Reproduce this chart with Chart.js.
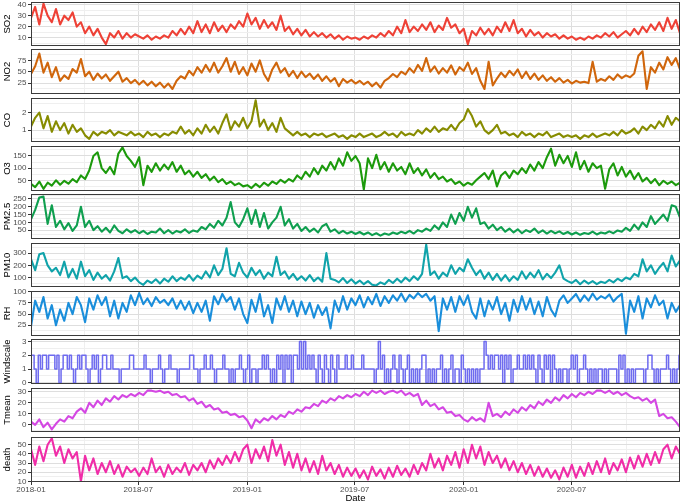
<!DOCTYPE html>
<html>
<head>
<meta charset="utf-8">
<script src="https://cdn.jsdelivr.net/npm/chart.js@4.4.1/dist/chart.umd.min.js"></script>
<style>
  html, body { margin: 0; padding: 0; background: #fff; }
  #wrap { position: relative; width: 685px; height: 504px; overflow: hidden; }
  #wrap canvas { position: absolute; left: 0; }
</style>
</head>
<body>
<div id="wrap"></div>
<script>
// roughly weekly readings, 2018-01-01 .. 2020-12-31 (wind scale twice a week)
const startDate = '2018-01-01';
const endDate = '2020-12-31';

const so2 = [28,38,22,41,30,24,36,22,30,26,33,20,24,14,20,12,18,10,4,14,10,16,9,14,10,13,
  11,9,12,8,11,9,12,10,16,12,18,13,20,14,25,15,22,14,24,16,21,15,22,18,25,20,
  32,22,28,18,26,19,24,17,30,16,20,13,18,12,17,11,15,11,14,10,13,9,12,8,11,9,
  10,8,11,9,12,10,14,11,16,12,20,14,26,15,20,16,22,17,24,15,21,17,28,19,22,14,
  18,4,16,12,19,13,18,12,20,15,24,16,26,14,18,11,17,12,15,10,14,11,13,9,12,9,
  11,8,10,8,11,9,12,10,14,11,15,10,13,16,12,18,13,20,15,22,17,24,16,28,18,26,14];

const no2 = [45,62,90,48,70,38,60,30,42,34,56,48,78,40,50,32,46,35,44,30,40,50,28,36,25,32,
  22,30,20,28,18,26,15,24,12,30,40,35,52,42,60,48,65,50,70,48,62,80,50,72,45,60,
  42,68,50,75,45,30,55,70,48,58,40,52,36,50,38,46,34,44,30,40,28,36,18,34,26,32,
  24,30,22,28,18,26,15,30,36,45,38,50,44,58,48,65,52,80,50,62,46,58,48,64,44,60,
  52,70,45,58,30,12,72,20,35,48,38,52,42,55,36,50,34,46,32,42,30,38,28,36,26,32,
  24,30,26,28,25,72,28,34,30,40,32,44,36,42,38,46,85,95,12,60,48,70,55,82,65,80,55];

const co = [1.2,1.7,2.0,1.1,1.8,0.9,1.5,1.0,1.4,0.8,1.3,0.9,1.1,0.7,0.5,0.9,0.7,0.9,0.8,1.0,0.7,0.9,0.8,0.7,0.9,0.7,
  0.8,0.6,0.9,0.7,0.8,0.6,0.8,0.7,0.9,0.8,1.2,0.8,1.0,0.7,1.1,0.8,1.3,0.9,1.2,0.8,1.4,1.9,1.0,1.5,1.2,1.7,
  1.1,1.5,2.7,1.2,1.6,1.0,1.4,0.9,1.7,1.1,0.9,0.7,0.9,0.7,0.8,0.6,0.8,0.7,0.8,0.6,0.7,0.8,0.6,0.7,0.5,0.7,
  0.6,0.8,0.6,0.7,0.8,0.6,0.7,0.9,0.7,0.8,0.6,0.9,0.7,0.8,0.7,1.0,0.8,1.1,0.9,1.2,0.9,1.1,1.0,1.3,1.0,1.4,
  1.6,2.2,1.8,1.2,1.5,1.0,0.8,1.0,1.3,0.8,0.9,0.7,0.8,0.6,0.9,0.7,0.8,0.6,0.8,0.7,0.9,0.6,0.7,0.8,0.6,0.7,
  0.6,0.7,0.5,0.7,0.6,0.8,0.6,0.7,0.8,0.7,0.9,0.7,1.0,0.8,0.9,1.1,0.8,1.2,1.0,1.3,1.1,1.5,1.2,1.8,1.3,1.7,1.5];

const o3 = [35,22,45,15,40,28,50,32,48,36,55,42,70,55,90,150,165,100,80,105,75,160,185,150,130,105,
  145,30,110,85,120,90,115,95,125,85,110,75,90,65,85,60,75,50,65,42,55,35,45,30,38,25,
  30,18,35,22,40,28,45,35,52,40,55,45,70,55,85,65,100,75,110,90,125,95,140,110,165,130,
  150,120,12,140,100,155,95,125,85,120,90,105,75,120,80,100,70,95,60,80,55,65,45,55,35,45,
  28,40,32,50,65,80,55,90,25,70,85,60,90,75,100,80,115,90,125,100,145,180,110,155,120,150,
  105,165,95,130,85,120,100,110,15,95,120,70,105,65,90,55,80,45,60,38,55,30,48,35,45,30,40];

const pm25 = [120,180,260,265,90,210,70,110,55,95,45,80,200,70,110,50,75,40,65,35,80,45,30,55,35,50,
  30,45,25,40,35,60,30,50,28,45,35,55,32,48,40,70,55,90,65,110,80,130,230,100,70,120,
  190,90,180,70,160,60,100,130,200,80,120,60,90,45,70,40,60,35,75,90,40,55,30,45,28,40,
  25,38,22,35,18,30,15,28,20,35,25,40,30,45,28,50,40,60,45,80,55,100,70,150,90,160,
  110,200,130,190,90,100,60,85,50,70,40,60,35,55,30,50,38,60,32,48,28,45,30,42,25,38,
  22,35,20,32,25,40,22,35,28,42,30,48,40,65,45,85,55,100,70,140,90,120,150,110,210,200,130];

const pm10 = [250,160,290,300,200,150,180,120,230,100,170,90,230,110,160,80,140,90,120,75,150,260,95,110,70,100,
  60,40,75,55,85,50,90,65,110,70,100,80,120,75,115,90,150,100,200,120,170,340,130,110,220,140,
  100,180,120,160,90,140,110,270,120,150,90,130,80,110,75,120,70,100,65,300,90,80,60,95,55,85,
  50,75,45,70,40,35,60,45,80,55,90,60,100,70,110,80,130,370,120,150,90,140,110,200,130,180,
  150,250,180,120,160,90,140,80,130,75,120,70,110,80,150,90,140,100,160,85,130,95,140,200,90,70,
  55,80,45,75,50,70,45,65,55,80,60,90,70,100,85,130,110,250,150,200,130,180,220,150,280,190,240];

const rh = [22,80,55,88,40,70,25,60,35,75,50,88,70,32,85,60,92,70,88,45,80,40,75,55,92,70,
  97,72,85,68,88,75,82,70,85,62,80,60,78,52,75,55,80,35,90,72,95,78,88,60,85,50,
  30,82,55,95,45,70,30,85,60,90,55,80,45,78,50,75,42,70,48,65,18,80,55,90,60,85,
  70,92,65,88,72,95,68,90,75,92,80,96,78,93,85,97,88,95,80,90,12,85,60,88,55,90,
  70,92,55,40,85,45,80,60,88,50,75,35,82,55,90,60,85,50,78,45,88,60,45,80,92,75,
  85,95,78,92,80,96,82,90,85,94,78,88,95,6,80,55,90,40,85,65,92,70,80,40,75,55,70];

const windscale = [2,2,1,0,2,1,2,2,1,2, 2,2,1,2,0,1,2,2,1,2, 1,0,1,2,1,2,2,1,0,1, 2,1,2,0,1,2,2,1,1,2,
  1,1,1,0,1,1,1,1,2,2, 1,1,1,1,1,2,1,1,0,1, 1,1,2,1,0,1,1,2,1,1, 1,0,1,1,1,1,1,2,2,1,
  1,0,1,1,2,1,1,2,1,0, 1,1,1,2,1,1,0,1,0,1, 1,2,1,0,1,2,0,1,1,0, 1,1,2,1,2,1,0,1,0,2,
  1,2,0,2,1,2,0,2,2,1, 3,1,3,1,2,1,2,1,0,2, 1,0,2,1,0,2,1,0,2,1, 1,1,2,1,1,2,1,1,1,1,
  2,1,1,1,1,1,0,1,3,1, 2,0,1,0,1,2,1,0,2,1, 0,1,2,0,1,0,1,0,1,2, 2,0,1,0,1,0,1,1,2,0,
  1,0,1,2,0,1,1,0,2,1, 0,1,0,1,0,1,0,1,1,3, 2,1,2,1,2,2,1,2,0,2, 1,2,0,1,1,2,1,1,2,1,
  2,1,2,1,0,2,1,0,2,1, 2,0,2,1,0,1,0,1,1,0, 1,2,1,2,0,1,1,2,1,0, 1,0,1,0,1,1,0,1,0,1,
  1,1,1,0,2,1,2,0,1,0, 1,0,1,1,1,1,0,1,2,2, 1,0,1,0,1,1,1,2,1,0, 1,0,1,2];

const tmean = [3,0,5,-2,2,-4,1,5,3,8,6,12,15,11,20,16,22,18,24,21,26,23,27,25,28,26,
  29,27,31,31,30,31,29,30,27,28,25,26,22,24,19,21,16,18,14,15,11,12,9,10,7,8,
  4,-3,5,2,6,4,8,5,9,7,12,10,14,12,16,15,19,17,22,20,24,22,26,24,27,25,
  28,26,30,27,31,29,31,28,30,31,29,31,27,29,26,28,18,22,17,19,14,16,11,12,8,9,
  5,3,7,4,6,3,20,8,10,7,12,9,14,11,16,13,18,15,21,18,23,20,25,22,27,24,
  28,25,29,27,30,28,31,31,29,31,28,30,27,29,26,24,25,22,24,20,23,8,10,6,7,3,-2];

const death = [45,28,48,32,50,57,38,48,30,45,35,42,10,38,22,35,18,30,20,32,18,28,15,26,20,24,
  16,25,18,35,20,26,15,28,18,25,20,30,17,28,22,30,20,33,24,35,28,38,30,42,32,45,
  50,30,45,35,48,32,55,38,50,28,42,25,40,22,35,20,32,18,38,22,30,18,28,15,25,16,
  24,14,22,12,26,16,23,13,25,15,27,17,24,15,28,18,30,22,40,25,35,22,38,28,42,25,
  45,30,50,35,48,28,42,30,38,25,35,22,32,20,30,18,28,16,26,15,24,14,22,12,25,15,
  28,14,26,16,30,18,32,20,35,18,30,22,34,20,36,24,38,26,40,28,42,30,45,50,35,48,40];

const so2Ticks = [10, 20, 30, 40];
const no2Ticks = [25, 50, 75];
const coTicks = [1, 2];
const o3Ticks = [50, 100, 150];
const pm25Ticks = [50, 100, 150, 200, 250];
const pm10Ticks = [100, 200, 300];
const rhTicks = [25, 50, 75, 100];
const windTicks = [0, 1, 2, 3];
const tmeanTicks = [0, 10, 20, 30];
const deathTicks = [10, 20, 30, 40, 50];

const so2Range = [2.3, 42.5];
const no2Range = [1, 100];
const coRange = [0.32, 2.83];
const o3Range = [6, 191];
const pm25Range = [-7, 282];
const pm10Range = [22, 383];
const rhRange = [1, 101.6];
const windRange = [-0.08, 3.18];
const tmeanRange = [-6.4, 33.4];
const deathRange = [9.3, 58.4];

const xMajorLabels = ['2018-01', '2018-07', '2019-01', '2019-07', '2020-01', '2020-07'];
const xMinorLabels = ['2018-04', '2018-10', '2019-04', '2019-10', '2020-04', '2020-10'];

const panels = [
  {name: 'SO2', values: so2, ticks: so2Ticks, range: so2Range, color: '#EE4136'},
  {name: 'NO2', values: no2, ticks: no2Ticks, range: no2Range, color: '#D0660C'},
  {name: 'CO', values: co, ticks: coTicks, range: coRange, color: '#878C00'},
  {name: 'O3', values: o3, ticks: o3Ticks, range: o3Range, color: '#1C9A0C'},
  {name: 'PM2.5', values: pm25, ticks: pm25Ticks, range: pm25Range, color: '#0F9F4F'},
  {name: 'PM10', values: pm10, ticks: pm10Ticks, range: pm10Range, color: '#10A3AA'},
  {name: 'RH', values: rh, ticks: rhTicks, range: rhRange, color: '#1A8EDB'},
  {name: 'Windscale', values: windscale, ticks: windTicks, range: windRange, color: '#6E6BEF', stepped: 'middle', width: 1.5},
  {name: 'Tmean', values: tmean, ticks: tmeanTicks, range: tmeanRange, color: '#D447E3'},
  {name: 'death', values: death, ticks: deathTicks, range: deathRange, color: '#F02DA8'}
];

// layout (px)
const panelTop = [2, 49, 98, 146, 194, 243, 291, 339, 388, 437];
const panelHeight = [44, 45, 44, 45, 45, 44, 45, 45, 44, 45];
const plotLeft = 31, plotRight = 680, pad = 6;

const DAY = 86400000;
const t0 = Date.parse(startDate);
const totalDays = (Date.parse(endDate) - t0) / DAY;
const toDay = s => (Date.parse(s + '-01') - t0) / DAY;
const spread = n => Array(n).fill().map((_, i) => i * totalDays / (n - 1));

const xTicks = xMajorLabels.map(l => ({value: toDay(l), label: l}))
  .concat(xMinorLabels.map(l => ({value: toDay(l), minor: true})))
  .sort((a, b) => a.value - b.value);

const fontFamily = '"Liberation Sans", Arial, Helvetica, sans-serif';
const majorGrid = '#DEDEDE', minorGrid = '#EFEFEF', tickMark = '#333333', labelGray = '#4D4D4D';

function minorBreaks(major, lo, hi) {
  const step = major[1] - major[0];
  const out = [];
  for (let v = major[0] - step / 2; v <= hi; v += step) if (v >= lo) out.push(v);
  return out;
}

const panelBorder = {
  id: 'panelBorder',
  afterDatasetsDraw(chart) {
    const {ctx, chartArea: a} = chart;
    ctx.save();
    ctx.strokeStyle = '#3C3C3C';
    ctx.lineWidth = 1;
    ctx.strokeRect(a.left + 0.5, a.top + 0.5, a.width - 1, a.height - 1);
    ctx.restore();
  }
};

const wrap = document.getElementById('wrap');

panels.forEach((p, i) => {
  const last = i === panels.length - 1;
  const top = panelTop[i] - pad;
  const h = last ? 504 - top : panelHeight[i] + 2 * pad;
  const xAxisH = last ? h - pad - panelHeight[i] : pad;
  const days = spread(p.values.length);

  const canvas = document.createElement('canvas');
  canvas.width = 685;
  canvas.height = h;
  canvas.style.top = top + 'px';
  wrap.appendChild(canvas);

  const yTicks = p.ticks.map(v => ({value: v}))
    .concat(minorBreaks(p.ticks, p.range[0], p.range[1]).map(v => ({value: v, minor: true})))
    .sort((a, b) => a.value - b.value);

  new Chart(canvas, {
    type: 'line',
    data: {
      datasets: [{
        label: p.name,
        data: p.values.map((v, k) => ({x: days[k], y: v})),
        borderColor: p.color,
        borderWidth: p.width || 2.1,
        pointRadius: 0,
        tension: 0,
        stepped: p.stepped || false,
        borderJoinStyle: 'round',
        borderCapStyle: 'round',
        clip: 0
      }]
    },
    options: {
      responsive: false,
      animation: false,
      devicePixelRatio: 1,
      layout: {padding: {top: pad, right: 685 - plotRight, bottom: 0, left: 0}},
      plugins: {legend: {display: false}, tooltip: {enabled: false}},
      scales: {
        x: {
          type: 'linear',
          bounds: 'data',
          min: 0,
          max: totalDays,
          afterBuildTicks: s => { s.ticks = xTicks.map(t => Object.assign({}, t)); },
          afterFit: s => { s.height = xAxisH; s.paddingLeft = 0; s.paddingRight = 0; },
          border: {display: false},
          grid: {
            color: c => (c.tick && c.tick.minor) ? minorGrid : majorGrid,
            tickColor: c => (c.tick && c.tick.minor) ? 'rgba(0,0,0,0)' : tickMark,
            drawTicks: last,
            tickLength: 3,
            lineWidth: 1
          },
          ticks: {
            display: last,
            autoSkip: false,
            maxRotation: 0,
            minRotation: 0,
            padding: 0,
            color: labelGray,
            font: {family: fontFamily, size: 8},
            callback: (v, k, ts) => ts[k].minor ? '' : ts[k].label
          },
          title: {
            display: last,
            text: 'Date',
            color: '#000',
            font: {family: fontFamily, size: 9.5},
            padding: {top: 0, bottom: 0}
          }
        },
        y: {
          min: p.range[0],
          max: p.range[1],
          bounds: 'data',
          afterBuildTicks: s => { s.ticks = yTicks.map(t => Object.assign({}, t)); },
          afterFit: s => { s.width = plotLeft; s.paddingTop = 0; s.paddingBottom = 0; },
          border: {display: false},
          grid: {
            color: c => (c.tick && c.tick.minor) ? minorGrid : majorGrid,
            tickColor: c => (c.tick && c.tick.minor) ? 'rgba(0,0,0,0)' : tickMark,
            tickLength: 3,
            lineWidth: 1
          },
          ticks: {
            autoSkip: false,
            padding: 1.5,
            color: labelGray,
            font: {family: fontFamily, size: 8},
            callback: (v, k, ts) => ts[k].minor ? '' : String(ts[k].value)
          },
          title: {
            display: true,
            text: p.name,
            color: '#000',
            font: {family: fontFamily, size: 9.5},
            padding: {top: 1.4, bottom: 0}
          }
        }
      }
    },
    plugins: [panelBorder]
  });
});
</script>
</body>
</html>
